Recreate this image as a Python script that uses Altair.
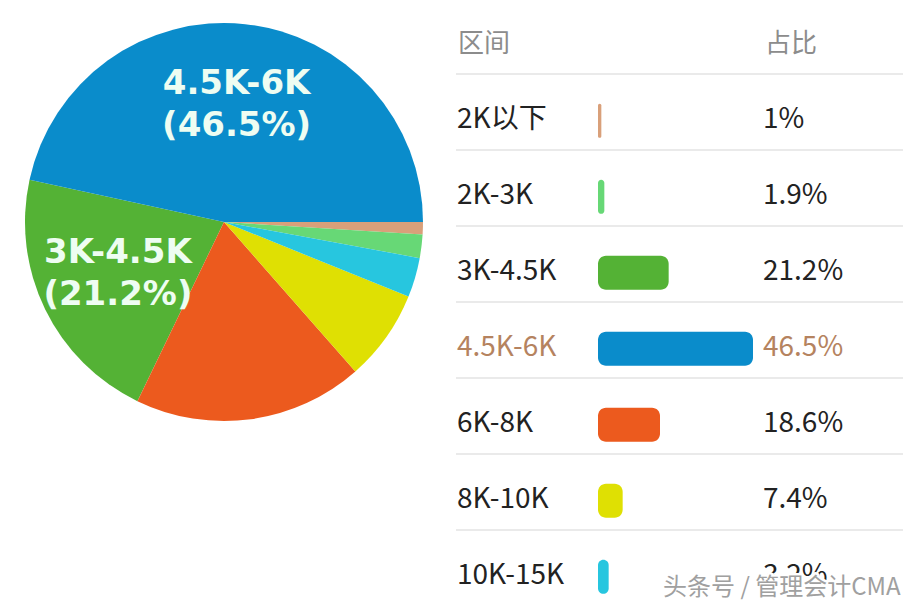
import math
import altair as alt
import pandas as pd

# ---- data ----
categories = ["2K以下", "2K-3K", "3K-4.5K", "4.5K-6K", "6K-8K", "8K-10K", "10K-15K"]
values = [1, 1.9, 21.2, 46.5, 18.6, 7.4, 3.2]
pct_labels = ["1%", "1.9%", "21.2%", "46.5%", "18.6%", "7.4%", "3.2%"]
# clockwise order of slices starting from 3 o'clock
pie_order = [0, 1, 5, 6, 4, 3, 2]
colors = ["#d9a07a", "#67d876", "#54b235", "#0a8ccb", "#ec5a1e", "#dfe003", "#27c6df"]
labeled = ["4.5K-6K", "3K-4.5K"]
headers = ["区间", "占比"]
highlight = "4.5K-6K"
watermark = "头条号 / 管理会计CMA"

df = pd.DataFrame({
    "cat": categories,
    "value": values,
    "pct": pct_labels,
    "idx": list(range(len(categories))),
    "pie_order": pie_order,
    "pie_label": [f"{c}\n({p})" if c in labeled else "" for c, p in zip(categories, pct_labels)],
})
lines_df = pd.DataFrame({"line": list(range(len(categories) + 1))})
one = pd.DataFrame({"h1": [headers[0]], "h2": [headers[1]], "wm": [watermark]})

color_scale = alt.Scale(domain=categories, range=colors)
theta_scale = alt.Scale(range=[math.pi / 2, math.pi / 2 + 2 * math.pi])
y_scale = alt.Scale(domain=[0, 7], range=[66, 598], nice=False, zero=False)
x_scale = alt.Scale(domain=[0, 46.5], range=[590, 745], nice=False, zero=True)

CX, CY, R = 216, 214, 199

pie = alt.Chart(df).mark_arc(radius=R, stroke=None).encode(
    x=alt.value(CX), y=alt.value(CY),
    theta=alt.Theta("value:Q", stack=True, scale=theta_scale),
    order=alt.Order("pie_order:Q"),
    color=alt.Color("cat:N", scale=color_scale, legend=None),
)

pie_text = alt.Chart(df).mark_text(
    radius=118, font="DejaVu Sans", fontWeight="bold", fontSize=34,
    lineBreak="\n", lineHeight=42, dy=-21, color="#eefdf2", align="center", baseline="middle",
).encode(
    x=alt.value(CX), y=alt.value(CY),
    theta=alt.Theta("value:Q", stack=True, scale=theta_scale),
    order=alt.Order("pie_order:Q"),
    text="pie_label:N",
)

rules = alt.Chart(lines_df).mark_rule(color="#e3e3e3", strokeWidth=1.5).encode(
    x=alt.value(448), x2=alt.value(895),
    y=alt.Y("line:Q", scale=y_scale, axis=None),
)

txt_color = alt.condition(alt.datum.cat == highlight, alt.value("#b5835f"), alt.value("#222222"))

cat_text = alt.Chart(df).transform_calculate(ty="datum.idx + 0.6").mark_text(
    font="Noto Sans CJK SC", fontSize=28, align="left", baseline="middle",
).encode(
    x=alt.value(449),
    y=alt.Y("ty:Q", scale=y_scale, axis=None),
    text="cat:N",
    color=txt_color,
)

pct_text = alt.Chart(df).transform_calculate(ty="datum.idx + 0.6").mark_text(
    font="Noto Sans CJK SC", fontSize=28, align="left", baseline="middle",
).encode(
    x=alt.value(755),
    y=alt.Y("ty:Q", scale=y_scale, axis=None),
    text="pct:N",
    color=txt_color,
)

bars = alt.Chart(df).transform_calculate(
    y0="datum.idx + 0.39", y1="datum.idx + 0.84"
).mark_rect(cornerRadius=8).encode(
    x=alt.X("value:Q", scale=x_scale, axis=None),
    x2=alt.datum(0),
    y=alt.Y("y0:Q", scale=y_scale, axis=None),
    y2="y1:Q",
    color=alt.Color("cat:N", scale=color_scale, legend=None),
)

head1 = alt.Chart(one).mark_text(
    font="Noto Sans CJK SC", fontSize=26, align="left", baseline="middle", color="#8c8c8c",
).encode(x=alt.value(450), y=alt.Y(datum=-0.4, scale=y_scale, axis=None), text="h1:N")

head2 = alt.Chart(one).mark_text(
    font="Noto Sans CJK SC", fontSize=26, align="left", baseline="middle", color="#8c8c8c",
).encode(x=alt.value(757), y=alt.Y(datum=-0.4, scale=y_scale, axis=None), text="h2:N")

wm_halo = alt.Chart(one).mark_text(
    font="Noto Sans CJK SC", fontSize=24, align="left", baseline="middle",
    color="white", stroke="white", strokeWidth=5, strokeJoin="round",
).encode(x=alt.value(655), y=alt.value(580), text="wm:N")

wm = alt.Chart(one).mark_text(
    font="Noto Sans CJK SC", fontSize=24, align="left", baseline="middle", color="#a0a0a0",
).encode(x=alt.value(655), y=alt.value(580), text="wm:N")

chart = alt.layer(
    rules, pie, pie_text, bars, cat_text, pct_text, head1, head2, wm_halo, wm
).properties(
    width=898, height=594, padding=0,
    autosize=alt.AutoSizeParams(type="none"),
    background="white",
).configure_view(stroke=None)

chart.save("out.html", embed_options={"renderer": "svg", "actions": False})
